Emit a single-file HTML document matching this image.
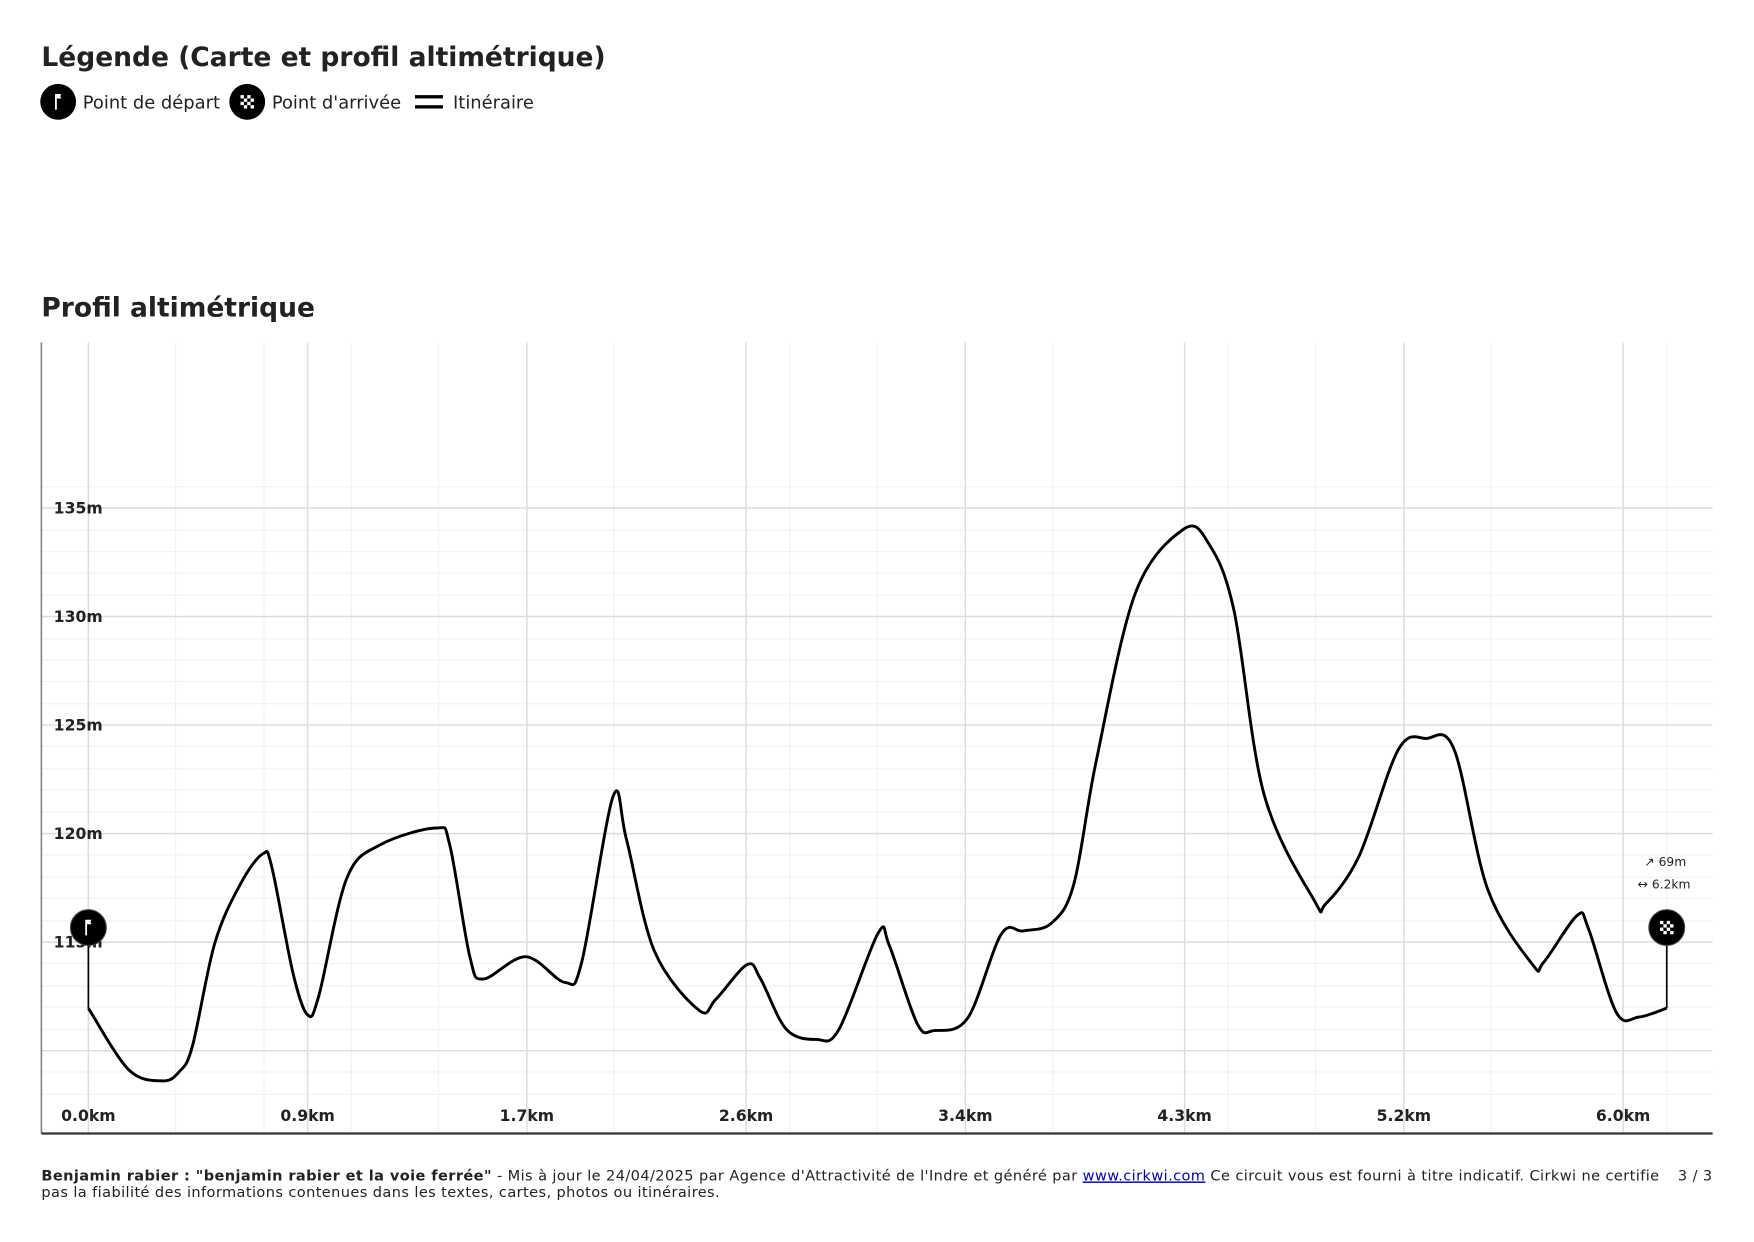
<!DOCTYPE html>
<html><head><meta charset="utf-8"><style>
html,body{margin:0;padding:0;background:#fff;width:1754px;height:1242px;overflow:hidden}
svg{display:block}
text{font-family:"DejaVu Sans","Liberation Sans",sans-serif;fill:#222}
</style></head><body>
<svg width="1754" height="1242" viewBox="0 0 1568 1110" preserveAspectRatio="none">
<text x="37" y="59" font-size="23.7" font-weight="bold">Légende (Carte et profil altimétrique)</text>
<circle cx="52" cy="91" r="16" fill="#000"/>
<path d="M50 84v14" stroke="#fff" stroke-width="1.6"/><path d="M50.8 84h4l-1 2 1 2h-4z" fill="#fff"/>
<text x="74" y="97" font-size="16">Point de départ</text>
<circle cx="221" cy="91" r="16" fill="#000"/>
<g fill="#fff"><rect x="215" y="85" width="3" height="3"/><rect x="221" y="85" width="3" height="3"/><rect x="218" y="88" width="3" height="3"/><rect x="224" y="88" width="3" height="3"/><rect x="215" y="91" width="3" height="3"/><rect x="221" y="91" width="3" height="3"/><rect x="218" y="94" width="3" height="3"/><rect x="224" y="94" width="3" height="3"/></g>
<text x="243" y="97" font-size="16">Point d'arrivée</text>
<rect x="371" y="85" width="25" height="3" fill="#000"/><rect x="371" y="94" width="25" height="3" fill="#000"/>
<text x="405" y="97" font-size="16">Itinéraire</text>
<text x="37" y="283" font-size="23.7" font-weight="bold">Profil altimétrique</text>
<g stroke="#f2f2f2" stroke-width="1">
<path d="M157 306V1013M236 306V1013M314 306V1013M392 306V1013M549 306V1013M706 306V1013M784 306V1013M941 306V1013M1098 306V1013M1176 306V1013M1333 306V1013M1490 306V1013"/>
<path d="M37 435H1531M37 474H1531M37 493H1531M37 512H1531M37 532H1531M37 571H1531M37 590H1531M37 609H1531M37 629H1531M37 667H1531M37 687H1531M37 706H1531M37 726H1531M37 764H1531M37 784H1531M37 803H1531M37 823H1531M37 861H1531M37 881H1531M37 900H1531M37 920H1531M37 958H1531M37 978H1531"/>
</g>
<g stroke="#dcdcdc" stroke-width="1.3">
<path d="M79 306V1013M275 306V1013M471 306V1013M667 306V1013M863 306V1013M1059 306V1013M1255 306V1013M1451 306V1013"/>
<path d="M37 454H1531M37 551H1531M37 648H1531M37 745H1531M37 842H1531M37 939H1531"/>
</g>
<path d="M37 306V1013" stroke="#888" stroke-width="1.5"/>
<path d="M37 1013H1531" stroke="#333" stroke-width="2"/>
<g font-size="14" font-weight="bold">
<text x="48" y="459">135m</text><text x="48" y="556">130m</text><text x="48" y="653">125m</text><text x="48" y="750">120m</text><text x="48" y="847">115m</text>
</g>
<g font-size="14" font-weight="bold" text-anchor="middle">
<text x="79" y="1002">0.0km</text><text x="275" y="1002">0.9km</text><text x="471" y="1002">1.7km</text><text x="667" y="1002">2.6km</text><text x="863" y="1002">3.4km</text><text x="1059" y="1002">4.3km</text><text x="1255" y="1002">5.2km</text><text x="1451" y="1002">6.0km</text>
</g>
<path id="curve" fill="none" stroke="#000" stroke-width="2.6" stroke-linejoin="round" d=""/>
<path d="M79 829V901M1490 829V901" stroke="#000" stroke-width="1.5"/>
<circle cx="79" cy="829" r="16" fill="#000" stroke="#444"/>
<path d="M77 822v14" stroke="#fff" stroke-width="1.6"/><path d="M77.8 822h4l-1 2 1 2h-4z" fill="#fff"/>
<circle cx="1490" cy="829" r="16" fill="#000" stroke="#444"/>
<g fill="#fff"><rect x="1484" y="823" width="3" height="3"/><rect x="1490" y="823" width="3" height="3"/><rect x="1487" y="826" width="3" height="3"/><rect x="1493" y="826" width="3" height="3"/><rect x="1484" y="829" width="3" height="3"/><rect x="1490" y="829" width="3" height="3"/><rect x="1487" y="832" width="3" height="3"/><rect x="1493" y="832" width="3" height="3"/></g>
<text x="1470" y="774" font-size="11">↗  69m</text>
<text x="1464" y="794" font-size="11">↔  6.2km</text>
<text x="37" y="1055" font-size="13" letter-spacing="0.37"><tspan font-weight="bold">Benjamin rabier : "benjamin rabier et la voie ferrée"</tspan> - Mis à jour le 24/04/2025 par Agence d'Attractivité de l'Indre et généré par <tspan fill="#00c" text-decoration="underline">www.cirkwi.com</tspan> Ce circuit vous est fourni à titre indicatif. Cirkwi ne certifie</text>
<text x="1531" y="1055" font-size="13" text-anchor="end" letter-spacing="0.37">3 / 3</text>
<text x="37" y="1070" font-size="13" letter-spacing="0.37">pas la fiabilité des informations contenues dans les textes, cartes, photos ou itinéraires.</text>
</svg>
<script>
var p=[[79,901],[115,956],[145,966],[160,958],[172,935],[192,843],[215,790],[235,763],[243,775],[262,870],[275,907],[285,890],[310,785],[340,755],[390,740],[402,755],[420,855],[432,875],[470,855],[505,878],[520,860],[548,712],[560,750],[585,850],[625,903],[640,893],[668,862],[680,875],[703,920],[730,929],[750,920],[785,834],[795,845],[820,915],[835,921],[865,910],[895,835],[915,832],[940,825],[960,790],[980,680],[1015,530],[1058,473],[1080,485],[1103,545],[1130,710],[1175,805],[1185,808],[1215,765],[1250,670],[1275,660],[1300,670],[1330,795],[1370,862],[1380,860],[1410,818],[1420,830],[1445,905],[1465,909],[1490,901]];
var d="M"+p[0][0]+" "+p[0][1];
for(var i=0;i<p.length-1;i++){var a=p[i-1]||p[i],b=p[i],c=p[i+1],e=p[i+2]||c;
d+=" C"+(b[0]+(c[0]-a[0])/6)+" "+(b[1]+(c[1]-a[1])/6)+" "+(c[0]-(e[0]-b[0])/6)+" "+(c[1]-(e[1]-b[1])/6)+" "+c[0]+" "+c[1];}
document.getElementById("curve").setAttribute("d",d);
</script>
</body></html>
